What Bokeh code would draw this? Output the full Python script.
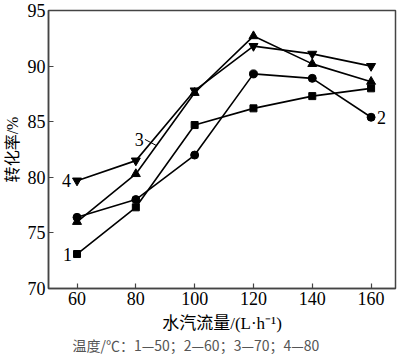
from bokeh.plotting import figure
from bokeh.embed import file_html
from bokeh.resources import INLINE
from bokeh.models import Range1d, FixedTicker, Title
from bokeh.core.properties import value

flow = [60, 80, 100, 120, 140, 160]
s1 = [73.1, 77.3, 84.7, 86.2, 87.3, 88.0]   # 50 C, squares
s2 = [76.4, 78.0, 82.0, 89.3, 88.9, 85.4]   # 60 C, circles
s3 = [76.0, 80.3, 87.6, 92.7, 90.2, 88.6]   # 70 C, up triangles
s4 = [79.7, 81.5, 87.8, 91.8, 91.1, 90.0]   # 80 C, down triangles
x_ticks = [60, 80, 100, 120, 140, 160]
y_ticks = [70, 75, 80, 85, 90, 95]
caption = "温度/℃：1—50；2—60；3—70；4—80"

serif = "Liberation Serif"
mixed = "Liberation Serif, Noto Sans CJK SC"
axc = "#444444"

p = figure(width=400, height=357, output_backend="svg", toolbar_location=None,
           x_range=Range1d(50.3, 168.3), y_range=Range1d(70, 95),
           min_border_left=48, min_border_right=5, min_border_top=10, min_border_bottom=69)
p.grid.visible = False
p.outline_line_color = axc
p.outline_line_width = 1.5
p.background_fill_color = "white"
p.border_fill_color = "white"

for ax in (p.xaxis[0], p.yaxis[0]):
    ax.axis_line_color = axc
    ax.axis_line_width = 1.5
    ax.major_tick_line_color = axc
    ax.major_tick_line_width = 1.2
    ax.major_tick_in = 5
    ax.major_tick_out = 0
    ax.minor_tick_line_color = None
    ax.major_label_text_font = serif
    ax.major_label_text_font_size = "18px"
    ax.major_label_text_color = "black"
    ax.axis_label_text_font = mixed
    ax.axis_label_text_font_style = "normal"
    ax.axis_label_text_color = "black"

p.xaxis.ticker = FixedTicker(ticks=x_ticks)
p.yaxis.ticker = FixedTicker(ticks=y_ticks)
p.xaxis.major_label_standoff = 3
p.yaxis.major_label_standoff = 3
p.xaxis.axis_label = "水汽流量/(L·h⁻¹)"
p.yaxis.axis_label = "转化率/%"
p.xaxis.axis_label_text_font_size = "17px"
p.yaxis.axis_label_text_font_size = "16px"
p.xaxis.axis_label_standoff = 6
p.yaxis.axis_label_standoff = 4

lw = 1.6
p.line(flow, s1, line_color="black", line_width=lw)
p.scatter(flow, s1, marker="square", size=7, color="black")
p.line(flow, s2, line_color="black", line_width=lw)
p.scatter(flow, s2, marker="circle", size=8, color="black")
p.line(flow, s3, line_color="black", line_width=lw)
p.scatter(flow, s3, marker="triangle", size=9, color="black")
p.line(flow, s4, line_color="black", line_width=lw)
p.scatter(flow, s4, marker="inverted_triangle", size=9, color="black")

# curve labels
tk = dict(text_font=value(serif), text_font_size="18px", text_color="black",
          text_baseline="middle")
p.text(x=[flow[0]], y=[s1[0]], text=["1"], text_align="right", x_offset=-5, **tk)
p.text(x=[flow[0]], y=[s4[0]], text=["4"], text_align="right", x_offset=-6, **tk)
p.text(x=[flow[-1]], y=[s2[-1]], text=["2"], text_align="left", x_offset=6, **tk)

# label 3 with leader line to curve 3
lead_x = 87.0
lead_y = s3[1] + (s3[2] - s3[1]) * (lead_x - flow[1]) / (flow[2] - flow[1])
p.segment(x0=[lead_x - 3.9], y0=[lead_y + 0.55], x1=[lead_x], y1=[lead_y],
          line_color="black", line_width=1)
p.text(x=[lead_x - 4.3], y=[lead_y + 0.55], text=["3"], text_align="right", **tk)

cap = Title(text=caption, align="left", offset=24, text_font="Noto Sans CJK SC",
            text_font_size="14px", text_color="#555555", text_font_style="normal",
            standoff=-6)
p.add_layout(cap, "below")

open("out.html", "w").write(file_html(p, INLINE))
